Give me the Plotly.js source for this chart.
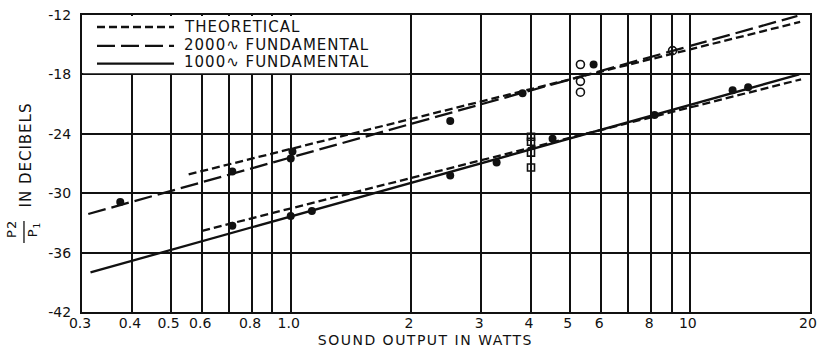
<!DOCTYPE html>
<html>
<head>
<meta charset="utf-8">
<script src="https://cdn.plot.ly/plotly-3.0.1.min.js"></script>
<style>
  html, body { margin: 0; padding: 0; background: #fff; }
  #chart { width: 817px; height: 348px; }
  .annotation-text { letter-spacing: 1px; }
  .annotation[data-index="3"] .annotation-text { letter-spacing: 1.5px; }
</style>
</head>
<body>
<div id="chart"></div>
<script>
// ---- Data ----
const xTickVals = [0.3, 0.4, 0.5, 0.6, 0.8, 1, 2, 3, 4, 5, 6, 8, 10, 20];
const xTickText = ['0.3', '0.4', '0.5', '0.6', '0.8', '1.0', '2', '3', '4', '5', '6', '8', '10', '20'];
const xUnlabeledGrid = [0.7, 0.9, 7, 9];
const yTickVals = [-42, -36, -30, -24, -18, -12];
const yTickText = ['-42', '-36', '-30', '-24', '-18', '-12'];

// fitted lines (end points)
const theoUpperX = [0.555, 18.9];
const theoUpperY = [-28.1, -12.7];
const theoLowerX = [0.6, 19.0];
const theoLowerY = [-33.8, -18.5];
const fund2000X = [0.311, 18.6];
const fund2000Y = [-32.1, -12.1];
const fund1000X = [0.315, 18.8];
const fund1000Y = [-38.0, -18.0];

// measured points, 2000 cycle group
const dots2000X = [0.374, 0.714, 1.01, 1.0, 2.51, 3.81, 5.74];
const dots2000Y = [-30.9, -27.8, -25.8, -26.5, -22.7, -19.9, -17.0];
const open2000X = [5.32, 5.32, 5.32, 9.05];
const open2000Y = [-17.0, -18.7, -19.8, -15.6];
// measured points, 1000 cycle group
const dots1000X = [0.714, 1.0, 1.13, 2.51, 3.28, 4.53, 8.16, 12.8, 14.0];
const dots1000Y = [-33.3, -32.3, -31.8, -28.2, -26.9, -24.5, -22.1, -19.6, -19.3];
const sq1000X = [4, 4, 4, 4];
const sq1000Y = [-24.3, -24.8, -25.9, -27.4];

const legendNames = ['THEORETICAL', '2000\u223F FUNDAMENTAL', '1000\u223F FUNDAMENTAL'];
const xTitle = 'SOUND OUTPUT IN WATTS';
const yTitle = 'IN DECIBELS';

const INK = '#111';
const FONT = 'DejaVu Sans, sans-serif';
const DASH_SHORT = '8px,4px';
const DASH_LONG = '18px,6px';

const traces = [
  {x: theoUpperX, y: theoUpperY, mode: 'lines', name: legendNames[0], line: {color: INK, width: 2.3, dash: DASH_SHORT}, showlegend: false},
  {x: theoLowerX, y: theoLowerY, mode: 'lines', name: legendNames[0], line: {color: INK, width: 2.3, dash: DASH_SHORT}, showlegend: false},
  {x: fund2000X, y: fund2000Y, mode: 'lines', name: legendNames[1], line: {color: INK, width: 2.3, dash: DASH_LONG}, showlegend: false},
  {x: fund1000X, y: fund1000Y, mode: 'lines', name: legendNames[2], line: {color: INK, width: 2.3}, showlegend: false},
  {x: dots2000X, y: dots2000Y, mode: 'markers', name: '2000 measured', marker: {symbol: 'circle', size: 8, color: INK}, showlegend: false},
  {x: open2000X, y: open2000Y, mode: 'markers', name: '2000 measured (open)', marker: {symbol: 'circle-open', size: 8, color: INK, line: {width: 1.6}}, showlegend: false},
  {x: dots1000X, y: dots1000Y, mode: 'markers', name: '1000 measured', marker: {symbol: 'circle', size: 8, color: INK}, showlegend: false},
  {x: sq1000X, y: sq1000Y, mode: 'markers', name: '1000 measured (open)', marker: {symbol: 'square-open', size: 7, color: INK, line: {width: 1.6}}, showlegend: false}
];

// legend drawn as samples + text inside the blank box at upper left
const legY = [0.9596, 0.896, 0.836];
const legTextY = [0.9596, 0.899, 0.8418];
const shapes = [
  {type: 'rect', xref: 'x', yref: 'y', x0: 0.302, x1: 1.98, y0: -17.88, y1: -12.1, fillcolor: '#fff', line: {width: 0}, layer: 'above'},
  {type: 'line', xref: 'paper', yref: 'paper', x0: -0.0797, x1: -0.0797, y0: 0.2323, y1: 0.3064, line: {color: INK, width: 1.3}}
];
const annotations = [
  {xref: 'paper', yref: 'paper', x: -0.0962, y: 0.2795, xanchor: 'center', yanchor: 'middle', text: 'P2', showarrow: false, textangle: -90, font: {family: FONT, size: 13, color: INK}},
  {xref: 'paper', yref: 'paper', x: -0.0655, y: 0.2795, xanchor: 'center', yanchor: 'middle', text: 'P<sub>1</sub>', showarrow: false, textangle: -90, font: {family: FONT, size: 13, color: INK}},
  {xref: 'paper', yref: 'paper', x: -0.0776, y: 0.5286, xanchor: 'center', yanchor: 'middle', text: yTitle, showarrow: false, textangle: -90, font: {family: FONT, size: 15, color: INK}},
  {xref: 'paper', yref: 'paper', x: 0.4725, y: -0.0943, xanchor: 'center', yanchor: 'middle', borderpad: 0, text: xTitle, showarrow: false, font: {family: FONT, size: 14, color: INK}}
];
legendNames.forEach(function (nm, i) {
  shapes.push({type: 'line', xref: 'paper', yref: 'paper', x0: 0.0206, x1: 0.1264, y0: legY[i], y1: legY[i],
    line: {color: INK, width: 2.3, dash: [DASH_SHORT, DASH_LONG, 'solid'][i]}, layer: 'above'});
  annotations.push({xref: 'paper', yref: 'paper', x: 0.1374, y: legTextY[i], xanchor: 'left', yanchor: 'middle',
    text: nm, showarrow: false, font: {family: FONT, size: 15, color: INK}});
});

const layout = {
  width: 817, height: 348,
  margin: {l: 82, r: 7, t: 15, b: 36},
  paper_bgcolor: '#fff', plot_bgcolor: '#fff',
  showlegend: false,
  font: {family: FONT, color: INK},
  xaxis: {
    type: 'log', range: [Math.log10(0.3) - 1e-4, Math.log10(20) + 1e-4],
    tickvals: xTickVals, ticktext: xTickText, ticks: '',
    ticklabeloverflow: 'allow', ticklabelshift: -2,
    showgrid: true, gridcolor: INK, gridwidth: 2,
    minor: {tickvals: xUnlabeledGrid, showgrid: true, gridcolor: INK, gridwidth: 2, ticks: ''},
    showline: true, mirror: true, linecolor: INK, linewidth: 2,
    tickfont: {family: FONT, size: 14, color: INK},
    ticklabelstandoff: -3,
    zeroline: false, fixedrange: true
  },
  yaxis: {
    range: [-42, -12],
    tickvals: yTickVals, ticktext: yTickText, ticks: '',
    showgrid: true, gridcolor: INK, gridwidth: 2,
    showline: true, mirror: true, linecolor: INK, linewidth: 2,
    tickfont: {family: FONT, size: 14, color: INK},
    ticklabelstandoff: 6,
    zeroline: false, fixedrange: true
  },
  shapes: shapes,
  annotations: annotations
};

Plotly.newPlot('chart', traces, layout, {displayModeBar: false, staticPlot: true});
</script>
</body>
</html>
